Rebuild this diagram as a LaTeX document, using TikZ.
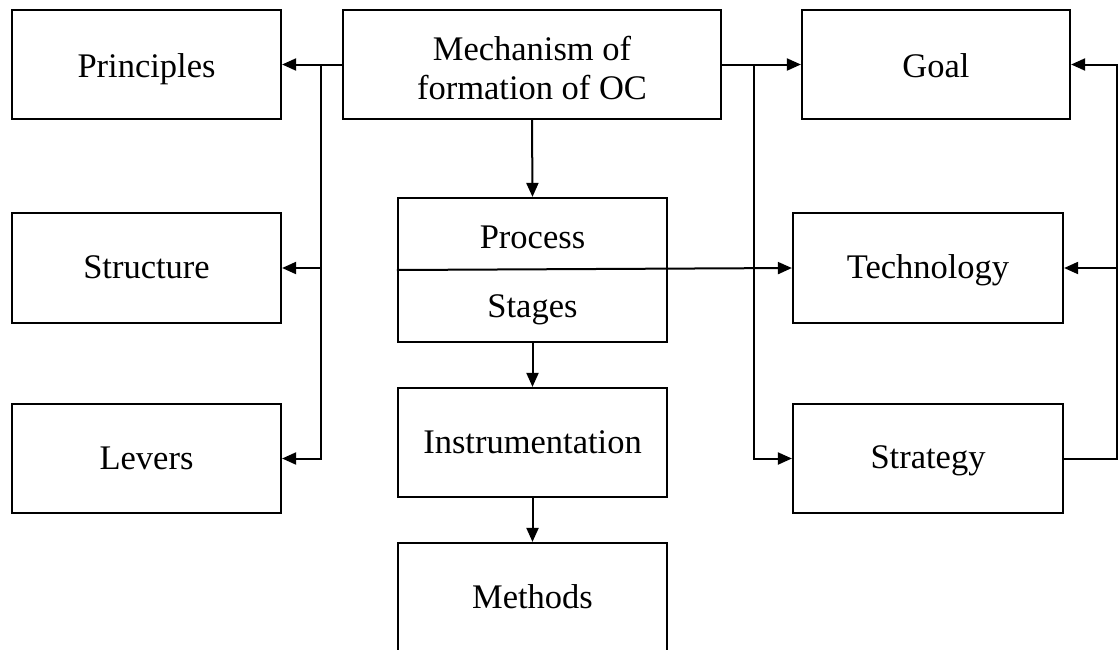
\documentclass[tikz,border=0pt]{standalone}
\usepackage{fontspec}
\setmainfont{Liberation Serif}
\usetikzlibrary{arrows.meta}

\begin{document}
\begin{tikzpicture}[x=1pt,y=-1pt,
  box/.style={draw,line width=2.2pt,inner sep=0pt,minimum width=269pt,minimum height=109pt},
  lbl/.style={inner sep=0pt,anchor=base,font=\fontsize{34.5}{38}\selectfont},
  conn/.style={line width=2pt},
  arr/.style={conn,-{Triangle[length=14pt,width=12pt]}}]
\useasboundingbox (0,0) rectangle (1119,649);
\clip (0,0) rectangle (1119,649);

% left column
\node[box] (prin) at (146.5,64.5) {};
\node[box,minimum height=110pt] (struc) at (146.5,268) {};
\node[box] (lev) at (146.5,458.5) {};
\node[lbl] (prinT) at (146.5,77) {Principles};
\node[lbl] (strucT) at (146.5,278) {Structure};
\node[lbl] (levT) at (146.5,469) {Levers};

% central column
\node[box,minimum width=378pt] (mech) at (532,64.5) {};
\node[lbl] (mechT1) at (532,60.7) {Mechanism of};
\node[lbl] (mechT2) at (532,99) {formation of OC};
\node[box,minimum height=144pt] (proc) at (532.5,270) {};
\node[lbl] (procT) at (532.5,248) {Process};
\node[lbl] (stagT) at (532.5,317) {Stages};
\node[box] (instr) at (532.5,442.5) {};
\node[lbl] (instrT) at (532.5,453) {Instrumentation};
\node[box] (meth) at (532.5,597.5) {};
\node[lbl] (methT) at (532.5,608) {Methods};

% right column
\node[box,minimum width=268pt] (goal) at (936,64.5) {};
\node[box,minimum width=270pt,minimum height=110pt] (tech) at (928,268) {};
\node[box,minimum width=270pt] (strat) at (928,458.5) {};
\node[lbl] (goalT) at (936,77) {Goal};
\node[lbl] (techT) at (928,278) {Technology};
\node[lbl] (stratT) at (928,468) {Strategy};

% left branch
\coordinate (lb) at (321,64.5);
\draw[arr] (mech.west) -- (prin.east);
\draw[arr] (lb) |- (lev.east);
\draw[arr] (lb |- struc.east) -- (struc.east);

% right branch
\coordinate (rb) at (754,64.5);
\draw[arr] (mech.east) -- (goal.west);
\draw[arr] (rb) |- (strat.west);

% process divider continuing to technology
\draw[arr] (proc.west) -- (tech.west);

% feedback from strategy
\coordinate (fb) at (1117,458.5);
\draw[arr] (strat.east) -- (fb) |- (goal.east);
\draw[arr] (fb |- tech.east) -- (tech.east);

% vertical chain
\draw[arr] (mech.south) -- (proc.north);
\draw[arr] (proc.south) -- (instr.north);
\draw[arr] (instr.south) -- (meth.north);
\end{tikzpicture}
\end{document}
